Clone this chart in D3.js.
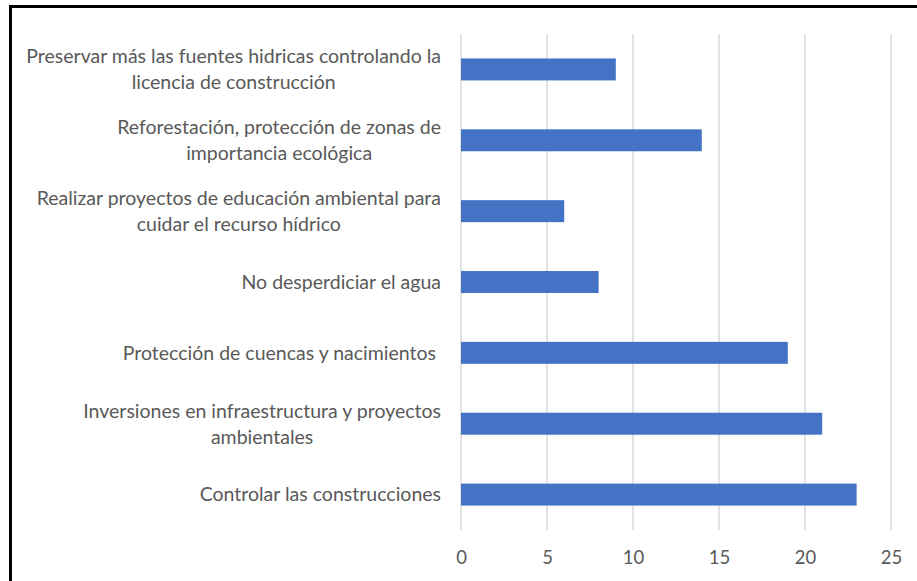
<!DOCTYPE html>
<html><head><meta charset="utf-8">
<script src="https://cdn.jsdelivr.net/npm/d3@7"></script>
<style>body{margin:0;background:#fff}svg{display:block}text{white-space:pre}</style>
</head><body>
<script>
const categories = [
  ["Preservar más las fuentes hidricas controlando la", "licencia de construcción"],
  ["Reforestación, protección de zonas de", "importancia ecológica"],
  ["Realizar proyectos de educación ambiental para", "cuidar el recurso hídrico"],
  ["No desperdiciar el agua"],
  ["Protección de cuencas y nacimientos "],
  ["Inversiones en infraestructura y proyectos", "ambientales"],
  ["Controlar las construcciones"]
];
const values = [9, 14, 6, 8, 19, 21, 23];
const tickValues = [0, 5, 10, 15, 20, 25];

const W = 917, H = 581;
const FONT = "Lato, 'Open Sans', sans-serif";
const svg = d3.select("body").append("svg").attr("width", W).attr("height", H);
svg.append("rect").attr("width", W).attr("height", H).attr("fill", "#fff");
svg.append("path").attr("d", `M10.5,${H} V6.5 H${W}`).attr("fill", "none").attr("stroke", "#000").attr("stroke-width", 3);

const x = d3.scaleLinear().domain([0, 25]).range([461, 891]);
const y = d3.scaleBand().domain(d3.range(categories.length)).range([34, 530]).paddingInner(0.69).paddingOuter(0.345);

svg.append("g").selectAll("line").data(tickValues).join("line")
  .attr("x1", d => x(d)).attr("x2", d => x(d)).attr("y1", 34).attr("y2", 530)
  .attr("stroke", "#d9d9d9").attr("stroke-width", 1.5);

const ax = svg.append("g").attr("transform", "translate(0,530)")
  .call(d3.axisBottom(x).tickValues(tickValues).tickSize(0).tickPadding(21).tickFormat(d3.format("d")));
ax.select(".domain").remove();
ax.selectAll("text").attr("fill", "#595959").style("font-family", FONT).style("font-size", "18.5px");

svg.append("g").selectAll("rect").data(values).join("rect")
  .attr("x", x(0)).attr("y", (d, i) => y(i))
  .attr("width", d => x(d) - x(0)).attr("height", y.bandwidth())
  .attr("fill", "#4472C4");

const right = 441, lh = 26;
const lab = svg.append("g").selectAll("text").data(categories).join("text")
  .attr("text-anchor", "middle")
  .attr("fill", "#595959")
  .style("font-family", FONT)
  .style("font-size", "19.5px");
lab.each(function(lines, i) {
  const cy = y(i) + y.bandwidth() / 2;
  const t = d3.select(this);
  const spans = lines.map((s, k) => t.append("tspan")
    .attr("y", cy + (k - (lines.length - 1) / 2) * lh)
    .attr("dy", "0.35em").text(s));
  const maxW = d3.max(spans, sp => sp.node().getComputedTextLength());
  spans.forEach(sp => sp.attr("x", right - maxW / 2));
});
</script>
</body></html>
